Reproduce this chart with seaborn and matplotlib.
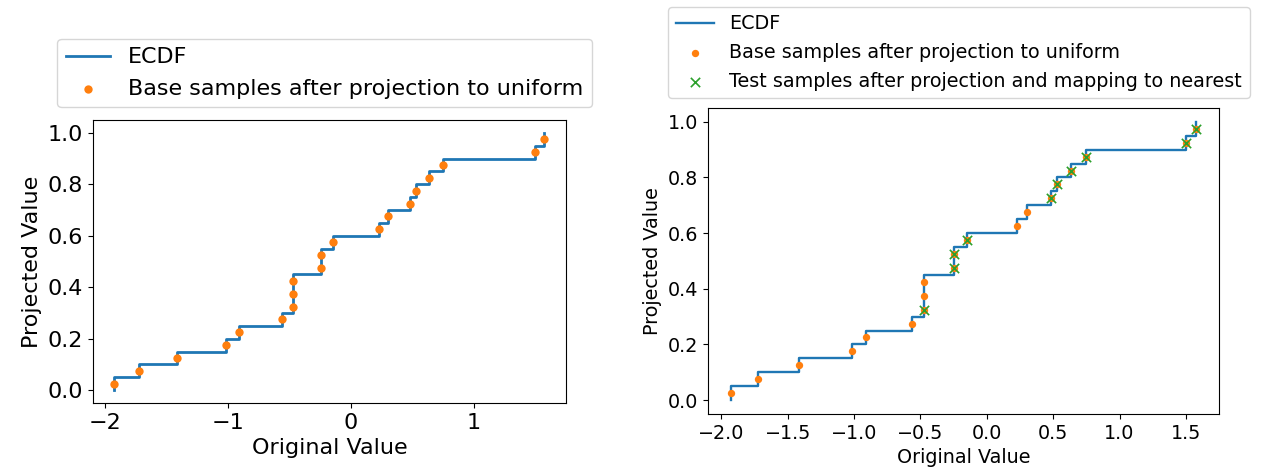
import numpy as np
import pandas as pd
import matplotlib
matplotlib.use("Agg")
import matplotlib.pyplot as plt
from matplotlib.ticker import MultipleLocator
import seaborn as sns

# base samples, sorted
base_x = [-1.926, -1.726, -1.416, -1.019, -0.914, -0.561, -0.474, -0.474, -0.474,
          -0.245, -0.245, -0.148, 0.229, 0.299, 0.483, 0.526, 0.631, 0.750, 1.502, 1.575]
# projected (uniform) positions of the base samples
base_u = [(i + 0.5) / len(base_x) for i in range(len(base_x))]
# test samples, mapped to the nearest base sample
test_idx = [6, 9, 10, 11, 14, 15, 16, 17, 18, 19]
test_x = [base_x[i] for i in test_idx]
test_u = [base_u[i] for i in test_idx]

base = pd.DataFrame({"x": base_x, "u": base_u})
test = pd.DataFrame({"x": test_x, "u": test_u})

fig = plt.figure(figsize=(12.65, 4.76), dpi=100)
ax1 = fig.add_axes([0.0735, 0.1534, 0.3739, 0.5945])
ax2 = fig.add_axes([0.5597, 0.1303, 0.4040, 0.643])

# left panel
fs1 = 16
sns.ecdfplot(data=base, x="x", ax=ax1, color="C0", linewidth=2.0, label="ECDF")
sns.scatterplot(data=base, x="x", y="u", ax=ax1, color="C1", s=36, linewidth=0,
                label="Base samples after projection to uniform", zorder=3)
ax1.set_ylim(-0.05, 1.05)
ax1.margins(x=0.05)
ax1.xaxis.set_major_locator(MultipleLocator(1))
ax1.yaxis.set_major_locator(MultipleLocator(0.2))
ax1.set_xlabel("Original Value", fontsize=fs1)
ax1.set_ylabel("Projected Value", fontsize=fs1)
ax1.tick_params(labelsize=fs1)
ax1.legend(loc="lower center", bbox_to_anchor=(0.49, 1.005), fontsize=fs1)

# right panel
fs2 = 13.8
sns.ecdfplot(data=base, x="x", ax=ax2, color="C0", linewidth=1.7, label="ECDF")
sns.scatterplot(data=base, x="x", y="u", ax=ax2, color="C1", s=28, linewidth=0,
                label="Base samples after projection to uniform", zorder=3)
sns.scatterplot(data=test, x="x", y="u", ax=ax2, color="C2", marker="x", s=45,
                linewidth=1.2, label="Test samples after projection and mapping to nearest",
                zorder=4)
ax2.set_ylim(-0.05, 1.05)
ax2.margins(x=0.05)
ax2.xaxis.set_major_locator(MultipleLocator(0.5))
ax2.yaxis.set_major_locator(MultipleLocator(0.2))
ax2.set_xlabel("Original Value", fontsize=fs2)
ax2.set_ylabel("Projected Value", fontsize=fs2)
ax2.tick_params(labelsize=fs2)
ax2.legend(loc="lower center", bbox_to_anchor=(0.491, 1.0), fontsize=fs2)

fig.savefig("out.png", dpi=100)
